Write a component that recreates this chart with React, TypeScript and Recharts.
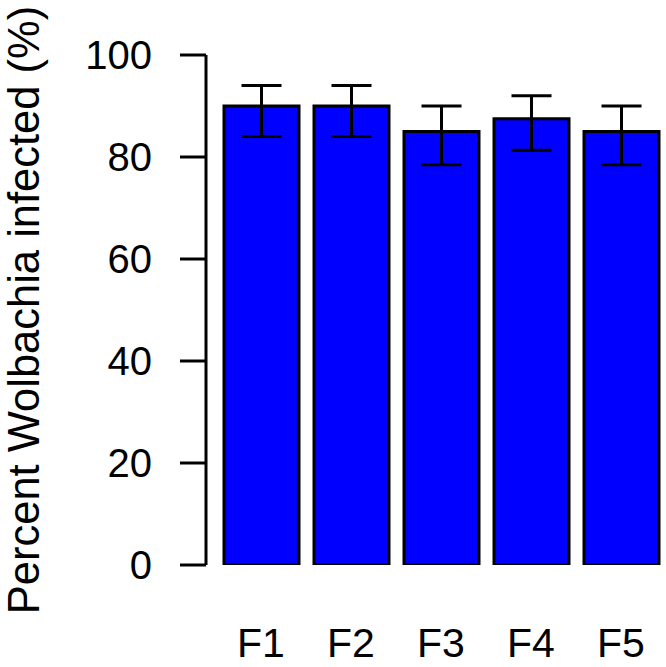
import React from 'react';
import { BarChart, Bar, XAxis, YAxis, ErrorBar } from 'recharts';

const categories = ['F1', 'F2', 'F3', 'F4', 'F5'];
const percentInfected = [90, 90, 85, 87.5, 85];
const lowerCI = [84, 84, 78.5, 81.3, 78.5];
const upperCI = [94, 94, 90, 92, 90];
const yTicks = [0, 20, 40, 60, 80, 100];

const data = categories.map((name, i) => ({
  name,
  value: percentInfected[i],
  err: [percentInfected[i] - lowerCI[i], upperCI[i] - percentInfected[i]],
}));

const FONT = '"Liberation Sans", Arial, sans-serif';

const YLabel = (props: any) => {
  const { viewBox } = props;
  const cy = viewBox.y + viewBox.height / 2;
  const x = 39;
  return (
    <text
      x={x}
      y={cy}
      transform={`rotate(-90, ${x}, ${cy})`}
      textAnchor="middle"
      fontSize={43.5}
      fontFamily={FONT}
      fill="#000"
    >
      Percent Wolbachia infected (%)
    </text>
  );
};

export default function App() {
  return (
    <div style={{ position: 'absolute', left: 0, top: 0, width: 666, height: 667, background: '#fff' }}>
      <BarChart
        width={666}
        height={667}
        data={data}
        margin={{ top: 55, right: 0, bottom: 0, left: 0 }}
        barCategoryGap={0}
      >
        <XAxis
          dataKey="name"
          axisLine={false}
          tickLine={false}
          tickSize={0}
          tickMargin={63}
          height={102}
          padding={{ left: 10, right: 0 }}
          tick={{ fontSize: 41, fontFamily: FONT, fill: '#000' }}
          interval={0}
        />
        <YAxis
          width={206}
          domain={[0, 100]}
          ticks={yTicks}
          allowDataOverflow
          axisLine={{ stroke: '#000', strokeWidth: 3 }}
          tickLine={{ stroke: '#000', strokeWidth: 3 }}
          tickSize={26}
          tickMargin={28}
          tick={{ fontSize: 40, fontFamily: FONT, fill: '#000' }}
          label={<YLabel />}
        />
        <Bar
          dataKey="value"
          fill="#0000FF"
          stroke="#000"
          strokeWidth={3}
          barSize={75}
          isAnimationActive={false}
        >
          <ErrorBar dataKey="err" width={20} stroke="#000" strokeWidth={3} direction="y" />
        </Bar>
      </BarChart>
    </div>
  );
}
